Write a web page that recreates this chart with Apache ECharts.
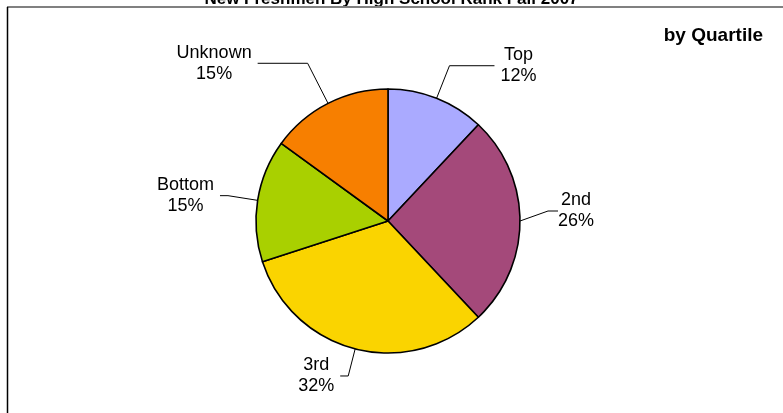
<!DOCTYPE html>
<html>
<head>
<meta charset="utf-8">
<script src="https://cdn.jsdelivr.net/npm/echarts@6/dist/echarts.min.js"></script>
<style>
html,body{margin:0;padding:0;background:#fff;}
#chart{width:783px;height:413px;}
</style>
</head>
<body>
<div id="chart"></div>
<script>
const titleText = 'New Freshmen By High School Rank Fall 2007';
const subtitleText = 'by Quartile';
const categories = ['Top', '2nd', '3rd', 'Bottom', 'Unknown'];
const values = [12, 26, 32, 15, 15];
const colors = ['#AAAAFF', '#A4497A', '#FAD400', '#A9D000', '#F77F00'];
const lineLengths = [35, 22, 28, 30, 45];
const lineLengths2 = [45, 10, 8, 8, 50];
const labelShiftY = [0, -10, 0, 0, 0];

const chart = echarts.init(document.getElementById('chart'), null, {renderer: 'canvas'});
const fontFam = '"Liberation Sans", Arial, sans-serif';

const data = categories.map((c, i) => ({
  name: c,
  value: values[i],
  itemStyle: {color: colors[i]},
  labelLine: {length: lineLengths[i], length2: lineLengths2[i]}
}));

chart.setOption({
  animation: false,
  backgroundColor: '#fff',
  title: [
    {text: titleText, left: 'center', top: -14,
     textStyle: {fontFamily: fontFam, fontSize: 17, fontWeight: 'bold', color: '#000'}},
    {text: subtitleText, right: 15, top: 21,
     textStyle: {fontFamily: fontFam, fontSize: 19, fontWeight: 'bold', color: '#000'}}
  ],
  graphic: [
    {type: 'line', shape: {x1: 7, y1: 7, x2: 783, y2: 7}, style: {stroke: '#808080', lineWidth: 2}, z: 10},
    {type: 'line', shape: {x1: 7.5, y1: 7, x2: 7.5, y2: 413}, style: {stroke: '#000', lineWidth: 1.5}, z: 10}
  ],
  series: [{
    type: 'pie',
    center: [388, 221],
    radius: 132,
    startAngle: 90,
    clockwise: true,
    avoidLabelOverlap: false,
    data: data,
    itemStyle: {borderColor: '#000', borderWidth: 1.6},
    label: {
      show: true,
      formatter: '{a|{b}}\n{a|{d}%}',
      distanceToLabelLine: 6,
      rich: {
        a: {fontFamily: fontFam, fontSize: 18, color: '#000', lineHeight: 21, align: 'center'}
      }
    },
    labelLayout: function (params) {
      const dy = labelShiftY[params.dataIndex];
      if (!dy) return {};
      const r = params.labelRect;
      return {y: r.y + r.height / 2 + dy};
    },
    labelLine: {show: true, lineStyle: {color: '#000', width: 1}},
    emphasis: {disabled: true}
  }]
});
</script>
</body>
</html>
